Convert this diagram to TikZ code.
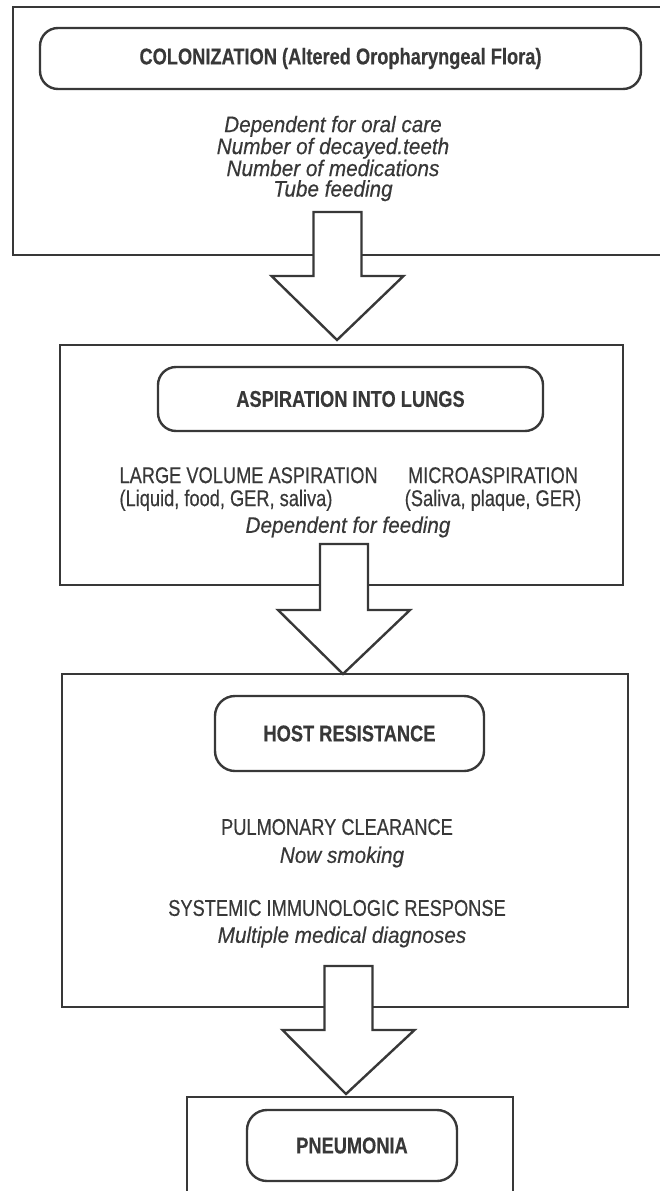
\documentclass[tikz,border=0pt]{standalone}
\usepackage{fontspec}
\setmainfont{Liberation Sans}[FakeStretch=0.8,FakeBold=0.4]
\newfontfamily\slantfont{Liberation Sans}[FakeStretch=0.92,FakeBold=0.4]
\usetikzlibrary{calc}
\definecolor{ink}{gray}{0.22}
\tikzset{
  frame/.style={draw=ink,line width=1.8pt},
  stage/.style={draw=ink,line width=2.4pt,rounded corners=18pt,inner sep=0pt,
    font=\bfseries\fontsize{22.8}{26}\selectfont,text=ink},
  factor/.style={font=\slantfont\itshape\fontsize{22.5}{20.5}\selectfont,text=ink,
    align=center},
  route/.style={font=\fontsize{22.8}{23}\selectfont,text=ink},
  blockarrow/.style={draw=ink,fill=white,line width=2.4pt,line join=miter}
}
% #1 = top of the shaft, #2 = tip of the head
\newcommand*{\bigarrow}[2]{%
  \draw[blockarrow] ($(#1)+(-24,0)$) -- ($(#1)+(24,0)$) --
    ($(#1 |- #2)+(24,-64)$) -- ($(#1 |- #2)+(66,-64)$) -- (#2) --
    ($(#1 |- #2)+(-66,-64)$) -- ($(#1 |- #2)+(-24,-64)$) -- cycle;}

\begin{document}
\begin{tikzpicture}[x=1pt,y=-1pt]
\useasboundingbox (0,0) rectangle (660,1191);

% frames
\draw[frame] (660,7) -- (13,7) -- (13,255) -- (660,255);
\draw[frame] (60,345) rectangle (623,585);
\draw[frame] (62,674) rectangle (628,1007);
\draw[frame] (187,1195) -- (187,1097) -- (513,1097) -- (513,1195);

% colonization
\node[stage,minimum width=601pt,minimum height=61pt] (colon) at (340.5,58.5)
  {COLONIZATION (Altered Oropharyngeal Flora)};
\node[factor] (colfac) at (333,158.5) {Dependent for oral care\\
  Number of decayed.teeth\\Number of medications\\Tube feeding};

% aspiration
\node[stage,minimum width=385pt,minimum height=64pt] (aspir) at (350.5,399)
  {ASPIRATION INTO LUNGS};
\node[route,align=left,anchor=west] (largeasp) at (116,489)
  {LARGE VOLUME ASPIRATION\\(Liquid, food, GER, saliva)};
\node[route,align=center] (microasp) at (493,489)
  {MICROASPIRATION\\(Saliva, plaque, GER)};
\node[factor] (aspfac) at (348,527) {Dependent for feeding};

% host resistance
\node[stage,minimum width=269pt,minimum height=75pt,rounded corners=20pt] (host)
  at (349.5,733.5) {HOST RESISTANCE};
\node[route] (clear) at (337,827) {PULMONARY CLEARANCE};
\node[factor] (clearfac) at (342,857) {Now smoking};
\node[route] (immun) at (337,908) {SYSTEMIC IMMUNOLOGIC RESPONSE};
\node[factor] (immunfac) at (342,937) {Multiple medical diagnoses};

% pneumonia
\node[stage,minimum width=210pt,minimum height=71pt,rounded corners=20pt] (pneu)
  at (352,1145.5) {PNEUMONIA};

% arrows
\coordinate (top1) at (337.5,212);
\coordinate (tip1) at (337,340);
\coordinate (top2) at (344,544);
\coordinate (tip2) at (343,674);
\coordinate (top3) at (348.5,966);
\coordinate (tip3) at (346,1094);
\bigarrow{top1}{tip1}
\bigarrow{top2}{tip2}
\bigarrow{top3}{tip3}
\end{tikzpicture}
\end{document}
